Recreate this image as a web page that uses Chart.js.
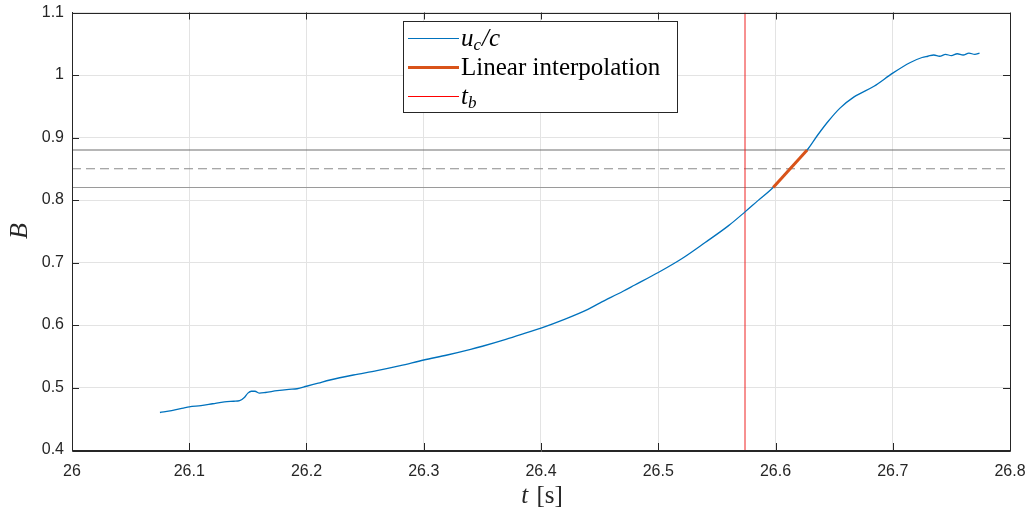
<!DOCTYPE html>
<html>
<head>
<meta charset="utf-8">
<script src="https://cdn.jsdelivr.net/npm/chart.js@4/dist/chart.umd.min.js"></script>
<style>
  html, body { margin: 0; padding: 0; background: #fff; }
  #wrap { width: 1032px; height: 512px; }
</style>
</head>
<body>
<div id="wrap"><canvas id="bChart" width="1032" height="512"></canvas></div>
<script>
var tValues = [26.075, 26.085, 26.095, 26.100, 26.110, 26.120, 26.130, 26.138, 26.143, 26.147,
               26.150, 26.153, 26.156, 26.160, 26.165, 26.175, 26.185, 26.192, 26.200, 26.210,
               26.220, 26.240, 26.260, 26.280, 26.300, 26.320, 26.340, 26.350, 26.370, 26.390,
               26.400, 26.420, 26.440, 26.450, 26.470, 26.480, 26.500, 26.520, 26.540, 26.560,
               26.574, 26.585, 26.598, 26.612, 26.627, 26.636, 26.645, 26.655, 26.667, 26.684,
               26.700, 26.715, 26.725, 26.730, 26.735, 26.740, 26.745, 26.750, 26.755, 26.760,
               26.765, 26.770, 26.774];
var bValues = [0.460, 0.463, 0.467, 0.469, 0.471, 0.474, 0.477, 0.478, 0.479, 0.484,
               0.491, 0.494, 0.494, 0.491, 0.492, 0.495, 0.497, 0.498, 0.502, 0.507,
               0.512, 0.520, 0.527, 0.535, 0.544, 0.552, 0.561, 0.566, 0.577, 0.589,
               0.595, 0.609, 0.625, 0.635, 0.654, 0.664, 0.684, 0.706, 0.732, 0.759,
               0.781, 0.799, 0.820, 0.850, 0.880, 0.904, 0.926, 0.947, 0.965, 0.982,
               1.003, 1.020, 1.028, 1.030, 1.032, 1.030, 1.033, 1.031, 1.034, 1.032,
               1.035, 1.033, 1.035];

// linear interpolation segment
var interpT = [26.598, 26.627];
var interpB = [0.820, 0.880];

// t_b marker and horizontal thresholds
var tBreak = 26.574;
var thresholdLow = 0.82;
var thresholdMid = 0.85;
var thresholdHigh = 0.88;

var xTicks = ['26', '26.1', '26.2', '26.3', '26.4', '26.5', '26.6', '26.7', '26.8'];
var yTicks = ['0.4', '0.5', '0.6', '0.7', '0.8', '0.9', '1', '1.1'];

var xMin = 26, xMax = 26.8, yMin = 0.4, yMax = 1.1;
var axisColor = '#262626';

function pairs(xs, ys) {
  var out = [];
  for (var i = 0; i < xs.length; i++) out.push({x: xs[i], y: ys[i]});
  return out;
}

function noOverflow(s) {
  s.paddingLeft = 0; s.paddingRight = 0;
  s.paddingTop = 0; s.paddingBottom = 0;
}

// box, inward ticks, axis titles and legend like the MATLAB figure
var matlabAxes = {
  id: 'matlabAxes',
  afterDraw: function(chart) {
    var c = chart.ctx, a = chart.chartArea;
    var xs = chart.scales.x, ys = chart.scales.y;
    c.save();
    c.strokeStyle = axisColor;
    c.lineWidth = 1;
    c.beginPath();
    c.rect(Math.round(a.left) + 0.5, Math.round(a.top) + 0.5,
           Math.round(a.right - a.left), Math.round(a.bottom - a.top));
    c.stroke();
    var tl = 7;
    c.beginPath();
    xs.ticks.forEach(function(t) {
      var px = Math.round(xs.getPixelForValue(t.value)) + 0.5;
      c.moveTo(px, a.bottom); c.lineTo(px, a.bottom - tl);
      c.moveTo(px, a.top); c.lineTo(px, a.top + tl);
    });
    ys.ticks.forEach(function(t) {
      var py = Math.round(ys.getPixelForValue(t.value)) + 0.5;
      c.moveTo(a.left, py); c.lineTo(a.left + tl, py);
      c.moveTo(a.right, py); c.lineTo(a.right - tl, py);
    });
    c.stroke();

    // axis titles
    c.fillStyle = axisColor;
    c.textBaseline = 'middle';
    c.textAlign = 'center';
    c.save();
    c.translate(20, 231);
    c.rotate(-Math.PI / 2);
    c.font = 'italic 26px "Liberation Serif"';
    c.fillText('B', 0, 0);
    c.restore();
    c.textAlign = 'left';
    c.font = 'italic 25px "Liberation Serif"';
    var tw = c.measureText('t').width;
    c.font = '25px "Liberation Serif"';
    var sw = c.measureText(' [s]').width;
    var x0 = 541 - (tw + sw) / 2;
    c.font = 'italic 25px "Liberation Serif"';
    c.fillText('t', x0, 496);
    c.font = '25px "Liberation Serif"';
    c.fillText(' [s]', x0 + tw + 2, 496);

    // legend
    var lx = 403.5, ly = 21.5, lw = 274, lh = 91;
    c.fillStyle = '#fff';
    c.fillRect(lx, ly, lw, lh);
    c.strokeStyle = axisColor;
    c.strokeRect(lx, ly, lw, lh);
    var rows = [
      {y: 38, color: '#0072BD', w: 1, parts: [['italic', 'u'], ['italicSub', 'c'], ['italic', '/c']]},
      {y: 67, color: '#D95319', w: 3, parts: [['roman', 'Linear interpolation']]},
      {y: 96, color: '#FF0000', w: 1, parts: [['italic', 't'], ['italicSub', 'b']]}
    ];
    rows.forEach(function(r) {
      c.strokeStyle = r.color;
      c.lineWidth = r.w;
      c.beginPath();
      c.moveTo(408, r.y + 0.5); c.lineTo(459, r.y + 0.5);
      c.stroke();
      var x = 461;
      c.fillStyle = '#000';
      c.textBaseline = 'alphabetic';
      r.parts.forEach(function(p) {
        var yy = r.y + 8;
        if (p[0] === 'italic') c.font = 'italic 25px "Liberation Serif"';
        else if (p[0] === 'italicSub') { c.font = 'italic 17px "Liberation Serif"'; yy = r.y + 12; }
        else c.font = '25px "Liberation Serif"';
        c.fillText(p[1], x, yy);
        x += c.measureText(p[1]).width + (p[0] === 'italicSub' ? 1 : 0);
      });
    });
    c.restore();
  }
};

var ctx = document.getElementById('bChart').getContext('2d');
var myChart = new Chart(ctx, {
  type: 'line',
  data: {
    datasets: [
      {
        label: 'low',
        data: pairs([xMin, xMax], [thresholdLow, thresholdLow]),
        borderColor: '#9a9a9a', borderWidth: 1.2, pointRadius: 0, order: 3
      },
      {
        label: 'mid',
        data: pairs([xMin, xMax], [thresholdMid, thresholdMid]),
        borderColor: '#8a8a8a', borderWidth: 1.2, borderDash: [9, 5], pointRadius: 0, order: 3
      },
      {
        label: 'high',
        data: pairs([xMin, xMax], [thresholdHigh, thresholdHigh]),
        borderColor: '#6e6e6e', borderWidth: 1.2, pointRadius: 0, order: 3
      },
      {
        label: 't_b',
        data: pairs([tBreak, tBreak], [yMin, yMax]),
        borderColor: '#ee2222', borderWidth: 1, pointRadius: 0, order: 2
      },
      {
        label: 'u_c/c',
        data: pairs(tValues, bValues),
        borderColor: '#0072BD', borderWidth: 1.3, pointRadius: 0,
        cubicInterpolationMode: 'monotone', order: 1
      },
      {
        label: 'Linear interpolation',
        data: pairs(interpT, interpB),
        borderColor: '#D95319', borderWidth: 3, pointRadius: 0, order: 0
      }
    ]
  },
  options: {
    responsive: false,
    animation: false,
    layout: { padding: { left: 0, top: 12.5, right: 22, bottom: 0 } },
    plugins: { legend: { display: false }, tooltip: { enabled: false } },
    scales: {
      x: {
        type: 'linear', min: xMin, max: xMax,
        afterFit: function(s) { s.height = 62; noOverflow(s); },
        afterBuildTicks: function(s) {
          s.ticks = xTicks.map(function(v) { return {value: parseFloat(v)}; });
        },
        grid: { color: '#e3e3e3', drawTicks: false },
        border: { color: axisColor },
        ticks: {
          color: axisColor, padding: 12, maxRotation: 0, autoSkip: false,
          font: { family: '"Liberation Sans", Arial, sans-serif', size: 16 },
          callback: function(v, i) { return xTicks[i]; }
        }
      },
      y: {
        type: 'linear', min: yMin, max: yMax,
        afterFit: function(s) { s.width = 72; noOverflow(s); },
        afterBuildTicks: function(s) {
          s.ticks = yTicks.map(function(v) { return {value: parseFloat(v)}; });
        },
        grid: { color: '#e3e3e3', drawTicks: false },
        border: { color: axisColor },
        ticks: {
          color: axisColor, padding: 8, autoSkip: false,
          font: { family: '"Liberation Sans", Arial, sans-serif', size: 16 },
          callback: function(v, i) { return yTicks[i]; }
        }
      }
    }
  },
  plugins: [matlabAxes]
});
</script>
</body>
</html>
